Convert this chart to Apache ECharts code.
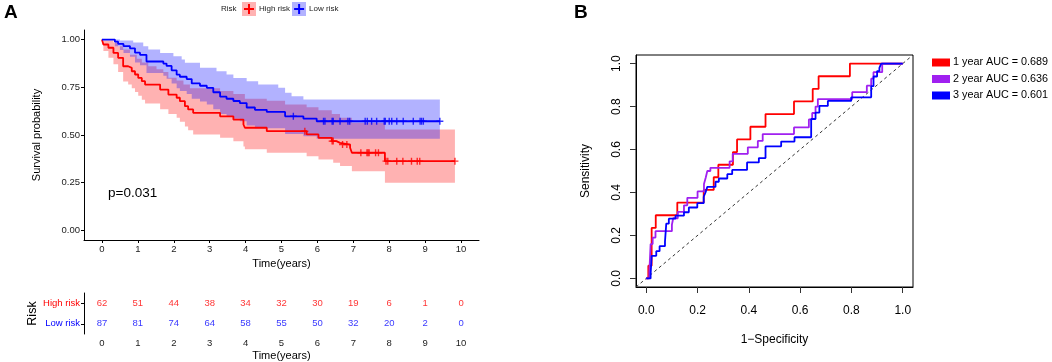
<!DOCTYPE html>
<html>
<head>
<meta charset="utf-8">
<script src="https://cdn.jsdelivr.net/npm/echarts@6/dist/echarts.min.js"></script>
<style>
  html, body { margin: 0; padding: 0; background: #fff; }
  #chart { width: 1052px; height: 362px; }
</style>
</head>
<body>
<div id="chart"></div>
<script>
// ---- panel A : Kaplan-Meier ----
var riskTimes = [0, 1, 2, 3, 4, 5, 6, 7, 8, 9, 10];
var highAtRisk = [62, 51, 44, 38, 34, 32, 30, 19, 6, 1, 0];
var lowAtRisk = [87, 81, 74, 64, 58, 55, 50, 32, 20, 2, 0];

var kmHigh = [[0,1],[0.04,0.974],[0.18,0.957],[0.32,0.93],[0.45,0.904],[0.59,0.86],[0.73,0.852],[0.83,0.834],
  [0.92,0.817],[1.01,0.799],[1.11,0.782],[1.2,0.764],[1.62,0.738],[1.85,0.712],[2.08,0.695],[2.17,0.677],
  [2.31,0.651],[2.4,0.634],[2.54,0.616],[3.29,0.598],[3.66,0.581],[3.94,0.555],[3.98,0.538],[4.59,0.52],
  [5.7,0.503],[6.03,0.485],[6.4,0.468],[6.53,0.459],[6.63,0.45],[6.91,0.433],[6.96,0.407],[7.88,0.363],[9.83,0.363]];
var kmLow = [[0,1],[0.36,0.989],[0.45,0.977],[0.6,0.966],[0.78,0.954],[0.92,0.931],[1.06,0.92],[1.24,0.885],
  [1.71,0.874],[1.8,0.862],[1.94,0.839],[2.08,0.816],[2.17,0.805],[2.36,0.793],[2.5,0.77],[2.73,0.758],
  [2.92,0.747],[3.1,0.724],[3.29,0.701],[3.47,0.69],[3.66,0.678],[3.84,0.667],[4.03,0.644],[4.26,0.632],
  [4.59,0.621],[5.1,0.598],[5.61,0.586],[5.98,0.572],[9.41,0.572]];

var highCensor = [[5.65,0.52],[6.41,0.468],[6.44,0.468],[6.7,0.45],[6.82,0.45],[7.21,0.407],[7.38,0.407],
  [7.41,0.407],[7.44,0.407],[7.62,0.407],[7.7,0.407],[7.91,0.363],[7.96,0.363],[8.21,0.363],[8.38,0.363],
  [8.62,0.363],[8.78,0.363],[8.85,0.363],[9.83,0.363]];
var lowCensor = [[5.33,0.598],[6.17,0.572],[6.21,0.572],[6.41,0.572],[6.44,0.572],[6.63,0.572],[6.85,0.572],
  [6.9,0.572],[7.33,0.572],[7.39,0.572],[7.51,0.572],[7.65,0.572],[7.86,0.572],[7.89,0.572],[8.0,0.572],
  [8.07,0.572],[8.21,0.572],[8.39,0.572],[8.67,0.572],[8.86,0.572],[8.9,0.572],[8.95,0.572],[9.41,0.572]];

var highUpper = [[0,1],[0.04,0.995],[0.32,0.985],[0.45,0.965],[0.59,0.948],[0.78,0.921],[0.97,0.9],[1.11,0.88],
  [1.29,0.86],[1.52,0.845],[1.71,0.83],[1.85,0.8],[2.08,0.785],[2.27,0.765],[2.45,0.745],[3.29,0.73],
  [3.66,0.715],[3.98,0.69],[4.59,0.68],[5.1,0.66],[5.7,0.645],[6.03,0.63],[6.4,0.61],[6.63,0.59],
  [6.96,0.564],[7.88,0.529]];
var highLower = [[0,1],[0.04,0.94],[0.18,0.905],[0.32,0.87],[0.45,0.83],[0.59,0.78],[0.73,0.765],[0.83,0.745],
  [0.92,0.725],[1.01,0.705],[1.11,0.685],[1.2,0.665],[1.62,0.635],[1.85,0.61],[2.08,0.59],[2.17,0.57],
  [2.31,0.545],[2.4,0.525],[2.54,0.503],[3.29,0.485],[3.66,0.467],[3.94,0.44],[3.98,0.425],[4.59,0.407],
  [5.7,0.389],[6.03,0.372],[6.44,0.354],[6.63,0.337],[6.96,0.31],[7.88,0.25]];
var lowUpper = [[0,1],[0.5,0.995],[0.87,0.985],[1.15,0.965],[1.29,0.948],[1.62,0.93],[1.99,0.913],[2.22,0.895],
  [2.31,0.878],[2.73,0.852],[3.19,0.834],[3.47,0.817],[3.66,0.799],[4.03,0.782],[4.35,0.764],[4.91,0.747],
  [5.1,0.721],[5.28,0.703],[5.61,0.686]];
var lowLower = [[0,1],[0.36,0.965],[0.5,0.945],[0.6,0.93],[0.78,0.91],[0.92,0.88],[1.06,0.865],[1.24,0.825],
  [1.71,0.81],[1.8,0.795],[1.94,0.77],[2.08,0.745],[2.17,0.73],[2.36,0.715],[2.5,0.69],[2.73,0.675],
  [2.92,0.66],[3.1,0.635],[3.29,0.61],[3.47,0.598],[3.66,0.585],[3.84,0.572],[4.03,0.55],[4.26,0.536],
  [5.1,0.505],[5.61,0.493],[5.98,0.48]];
var highEnd = 9.83, lowEnd = 9.41;

var kmXTicks = [0, 1, 2, 3, 4, 5, 6, 7, 8, 9, 10];
var kmYTicks = [0, 0.25, 0.5, 0.75, 1];

// ---- panel B : ROC ----
var rocNames = ['1 year AUC = 0.689', '2 year AUC = 0.636', '3 year AUC = 0.601'];
var rocTicks = [0, 0.2, 0.4, 0.6, 0.8, 1];
var roc1 = [[0,0],[0.008,0],[0.008,0.059],[0.021,0.059],[0.021,0.235],[0.037,0.235],[0.037,0.294],[0.121,0.294],
  [0.121,0.353],[0.224,0.353],[0.224,0.412],[0.263,0.412],[0.263,0.471],[0.281,0.471],[0.281,0.529],[0.338,0.529],
  [0.338,0.588],[0.354,0.588],[0.354,0.647],[0.406,0.647],[0.406,0.706],[0.465,0.706],[0.465,0.765],[0.576,0.765],
  [0.576,0.824],[0.649,0.824],[0.649,0.882],[0.672,0.882],[0.672,0.941],[0.794,0.941],[0.794,1],[1,1]];
var roc2 = [[0,0],[0.012,0],[0.012,0.03],[0.017,0.03],[0.017,0.16],[0.025,0.16],[0.025,0.19],[0.036,0.19],
  [0.036,0.22],[0.1,0.22],[0.1,0.25],[0.105,0.25],[0.105,0.28],[0.123,0.28],[0.123,0.31],[0.147,0.31],
  [0.147,0.34],[0.16,0.34],[0.16,0.375],[0.2,0.375],[0.2,0.405],[0.225,0.405],[0.225,0.44],[0.232,0.44],
  [0.232,0.47],[0.238,0.47],[0.238,0.5],[0.25,0.5],[0.25,0.515],[0.325,0.515],[0.325,0.545],[0.337,0.545],
  [0.337,0.58],[0.396,0.58],[0.396,0.61],[0.435,0.61],[0.435,0.64],[0.454,0.64],[0.454,0.672],[0.576,0.672],
  [0.576,0.703],[0.634,0.703],[0.634,0.74],[0.647,0.74],[0.647,0.77],[0.66,0.77],[0.66,0.8],[0.669,0.8],
  [0.669,0.835],[0.803,0.835],[0.803,0.867],[0.86,0.867],[0.86,0.897],[0.877,0.897],[0.877,0.93],[0.886,0.93],
  [0.886,0.96],[0.92,0.96],[0.92,1],[1,1]];
var roc3 = [[0,0],[0.017,0],[0.017,0.02],[0.021,0.02],[0.021,0.105],[0.039,0.105],[0.039,0.127],[0.052,0.127],
  [0.052,0.15],[0.073,0.15],[0.073,0.172],[0.078,0.172],[0.078,0.255],[0.088,0.255],[0.088,0.278],[0.114,0.278],
  [0.114,0.292],[0.147,0.292],[0.147,0.308],[0.166,0.308],[0.166,0.33],[0.199,0.33],[0.199,0.35],[0.224,0.35],
  [0.224,0.38],[0.231,0.38],[0.231,0.4],[0.238,0.4],[0.238,0.426],[0.27,0.426],[0.27,0.45],[0.283,0.45],
  [0.283,0.465],[0.316,0.465],[0.316,0.485],[0.335,0.485],[0.335,0.505],[0.393,0.505],[0.393,0.54],[0.439,0.54],
  [0.439,0.56],[0.465,0.56],[0.465,0.615],[0.526,0.615],[0.526,0.637],[0.578,0.637],[0.578,0.657],[0.643,0.657],
  [0.643,0.742],[0.66,0.742],[0.66,0.772],[0.675,0.772],[0.675,0.803],[0.708,0.803],[0.708,0.826],[0.799,0.826],
  [0.799,0.843],[0.877,0.843],[0.877,0.895],[0.886,0.895],[0.886,0.94],[0.9,0.94],[0.9,0.965],[0.909,0.965],
  [0.909,0.98],[0.916,0.98],[0.916,1],[1,1]];
var diagLine = [[-0.04, -0.04], [1.04, 1.04]];

var RED = '#FF0000', BLUE = '#0000FF', PURPLE = '#A020F0';
var PLUS = 'path://M0,4 L10,4 L10,6 L0,6 Z M4,0 L6,0 L6,10 L4,10 Z';
var FONT = '"Liberation Sans", Arial, Helvetica, sans-serif';

// step-shaped confidence band drawn through the axis scale
function bandRenderer(upper, lower, endT, fill) {
  return function (params, api) {
    var pts = [], i, nextT;
    for (i = 0; i < upper.length; i++) {
      nextT = i + 1 < upper.length ? upper[i + 1][0] : endT;
      pts.push(api.coord([upper[i][0], upper[i][1]]));
      pts.push(api.coord([nextT, upper[i][1]]));
    }
    for (i = lower.length - 1; i >= 0; i--) {
      nextT = i + 1 < lower.length ? lower[i + 1][0] : endT;
      pts.push(api.coord([nextT, lower[i][1]]));
      pts.push(api.coord([lower[i][0], lower[i][1]]));
    }
    return { type: 'polygon', shape: { points: pts }, style: { fill: fill } };
  };
}

function riskData(name, counts) {
  return riskTimes.map(function (t, i) { return [t, name, counts[i]]; });
}

var axisCol = '#000';
var tickLab = { fontSize: 9.5, color: '#222' };

var option = {
  animation: false,
  textStyle: { fontFamily: FONT },
  grid: [
    { left: 84, top: 30, width: 395, height: 210 },
    { left: 84, top: 293, width: 395, height: 41 },
    { left: 636, top: 55, width: 277, height: 232, show: true, borderColor: '#000', borderWidth: 1 }
  ],
  legend: [
    {
      data: ['High risk', 'Low risk'], left: 244, top: 4, padding: 0, icon: PLUS,
      itemWidth: 10, itemHeight: 10, itemGap: 4,
      textStyle: { fontSize: 8, color: '#222' }
    },
    {
      data: rocNames, orient: 'vertical', left: 932, top: 57, padding: 0, icon: 'rect',
      itemWidth: 18, itemHeight: 8, itemGap: 5.5,
      textStyle: { fontSize: 10.8, color: '#000', padding: [0, 0, 0, -2] }
    }
  ],
  xAxis: [
    {
      gridIndex: 0, type: 'value', min: -0.5, max: 10.5,
      name: 'Time(years)', nameLocation: 'middle', nameGap: 13,
      nameTextStyle: { fontSize: 11, color: '#000' },
      axisLine: { onZero: false, lineStyle: { color: axisCol, width: 1 } },
      axisTick: { customValues: kmXTicks, length: 3, lineStyle: { color: axisCol } },
      axisLabel: Object.assign({ customValues: kmXTicks, margin: 4 }, tickLab),
      splitLine: { show: false }
    },
    {
      gridIndex: 1, type: 'value', min: -0.5, max: 10.5,
      name: 'Time(years)', nameLocation: 'middle', nameGap: 16,
      nameTextStyle: { fontSize: 11, color: '#000' },
      axisLine: { onZero: false, lineStyle: { color: axisCol, width: 1 } },
      axisTick: { customValues: kmXTicks, length: 3, lineStyle: { color: axisCol } },
      axisLabel: Object.assign({ customValues: kmXTicks, margin: 4 }, tickLab),
      splitLine: { show: false }
    },
    {
      gridIndex: 2, type: 'value', min: -0.04, max: 1.04,
      name: '1\u2212Specificity', nameLocation: 'middle', nameGap: 47,
      nameTextStyle: { fontSize: 12, color: '#000' },
      axisLine: { show: true, onZero: false, lineStyle: { color: '#000', width: 1 } },
      axisTick: { show: true, customValues: rocTicks, length: 6, lineStyle: { color: '#333' } },
      axisLabel: { customValues: rocTicks, margin: 18, fontSize: 12, color: '#000',
        formatter: function (v) { return v.toFixed(1); } },
      splitLine: { show: false }
    }
  ],
  yAxis: [
    {
      gridIndex: 0, type: 'value', min: -0.05, max: 1.05,
      name: 'Survival probability', nameLocation: 'middle', nameGap: 42,
      nameTextStyle: { fontSize: 11, color: '#000' },
      axisLine: { show: true, onZero: false, lineStyle: { color: axisCol, width: 1 } },
      axisTick: { show: true, customValues: kmYTicks, length: 3, lineStyle: { color: axisCol } },
      axisLabel: Object.assign({ customValues: kmYTicks, margin: 4,
        formatter: function (v) { return v.toFixed(2); } }, tickLab),
      splitLine: { show: false }
    },
    {
      gridIndex: 1, type: 'category', data: ['Low risk', 'High risk'],
      name: 'Risk', nameLocation: 'middle', nameGap: 44,
      nameTextStyle: { fontSize: 12.5, color: '#000' },
      axisLine: { show: true, onZero: false, lineStyle: { color: axisCol, width: 1 } },
      axisTick: { show: true, alignWithLabel: true, length: 3, lineStyle: { color: axisCol } },
      axisLabel: { fontSize: 9.5, margin: 4,
        color: function (v) { return v === 'High risk' ? RED : BLUE; } },
      splitLine: { show: false }
    },
    {
      gridIndex: 2, type: 'value', min: -0.04, max: 1.04,
      name: 'Sensitivity', nameLocation: 'middle', nameGap: 44,
      nameTextStyle: { fontSize: 12, color: '#000' },
      axisLine: { show: true, onZero: false, lineStyle: { color: '#000', width: 1 } },
      axisTick: { show: true, customValues: rocTicks, length: 6, lineStyle: { color: '#333' } },
      axisLabel: { customValues: rocTicks, margin: 13, fontSize: 12, color: '#000', rotate: 90,
        formatter: function (v) { return v.toFixed(1); } },
      splitLine: { show: false }
    }
  ],
  graphic: [
    { type: 'text', left: 4, top: 3, style: { text: 'A', font: 'bold 19px ' + FONT, fill: '#000' } },
    { type: 'text', left: 574, top: 3, style: { text: 'B', font: 'bold 19px ' + FONT, fill: '#000' } },
    { type: 'text', left: 221, top: 5, style: { text: 'Risk', font: '8px ' + FONT, fill: '#222' } },
    { type: 'text', left: 108, top: 186, style: { text: 'p=0.031', font: '13.5px ' + FONT, fill: '#000' } },
    { type: 'rect', left: 242, top: 2, shape: { width: 14, height: 14 }, style: { fill: 'rgba(255,0,0,0.3)' }, z: 0 },
    { type: 'rect', left: 292, top: 2, shape: { width: 14, height: 14 }, style: { fill: 'rgba(0,0,255,0.3)' }, z: 0 }
  ],
  series: [
    {
      type: 'custom', name: 'High band', xAxisIndex: 0, yAxisIndex: 0, z: 1,
      data: [[0, 1]], renderItem: bandRenderer(highUpper, highLower, highEnd, 'rgba(255,0,0,0.3)'), silent: true
    },
    {
      type: 'custom', name: 'Low band', xAxisIndex: 0, yAxisIndex: 0, z: 1,
      data: [[0, 1]], renderItem: bandRenderer(lowUpper, lowLower, lowEnd, 'rgba(0,0,255,0.3)'), silent: true
    },
    {
      type: 'line', name: 'High risk', xAxisIndex: 0, yAxisIndex: 0, z: 3, data: kmHigh, step: 'end',
      showSymbol: false, color: RED, lineStyle: { width: 1.8, color: RED }
    },
    {
      type: 'line', name: 'Low risk', xAxisIndex: 0, yAxisIndex: 0, z: 4, data: kmLow, step: 'end',
      showSymbol: false, color: BLUE, lineStyle: { width: 1.8, color: BLUE }
    },
    {
      type: 'scatter', name: 'High censor', xAxisIndex: 0, yAxisIndex: 0, z: 5, data: highCensor,
      symbol: PLUS, symbolSize: 7, itemStyle: { color: RED }
    },
    {
      type: 'scatter', name: 'Low censor', xAxisIndex: 0, yAxisIndex: 0, z: 6, data: lowCensor,
      symbol: PLUS, symbolSize: 7, itemStyle: { color: BLUE }
    },
    {
      type: 'scatter', name: 'High table', xAxisIndex: 1, yAxisIndex: 1, data: riskData('High risk', highAtRisk),
      symbolSize: 2, itemStyle: { color: 'rgba(0,0,0,0)' },
      label: { show: true, position: 'inside', fontSize: 9.5, color: RED,
        formatter: function (p) { return String(p.value[2]); } }
    },
    {
      type: 'scatter', name: 'Low table', xAxisIndex: 1, yAxisIndex: 1, data: riskData('Low risk', lowAtRisk),
      symbolSize: 2, itemStyle: { color: 'rgba(0,0,0,0)' },
      label: { show: true, position: 'inside', fontSize: 9.5, color: BLUE,
        formatter: function (p) { return String(p.value[2]); } }
    },
    {
      type: 'line', name: 'diag', xAxisIndex: 2, yAxisIndex: 2, data: diagLine, showSymbol: false,
      lineStyle: { color: '#333', width: 1, type: [3, 3] }, z: 1
    },
    {
      type: 'line', name: rocNames[0], xAxisIndex: 2, yAxisIndex: 2, data: roc1, showSymbol: false,
      color: RED, lineStyle: { color: RED, width: 1.8 }, z: 2
    },
    {
      type: 'line', name: rocNames[1], xAxisIndex: 2, yAxisIndex: 2, data: roc2, showSymbol: false,
      color: PURPLE, lineStyle: { color: PURPLE, width: 1.8 }, z: 3
    },
    {
      type: 'line', name: rocNames[2], xAxisIndex: 2, yAxisIndex: 2, data: roc3, showSymbol: false,
      color: BLUE, lineStyle: { color: BLUE, width: 1.8 }, z: 4
    }
  ]
};

var chart = echarts.init(document.getElementById('chart'), null, { renderer: 'canvas' });
chart.setOption(option);
</script>
</body>
</html>
